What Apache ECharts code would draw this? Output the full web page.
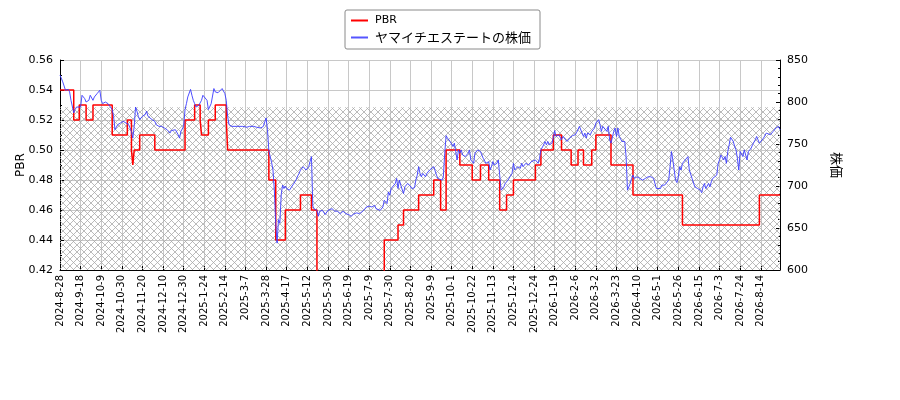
<!DOCTYPE html>
<html>
<head>
<meta charset="utf-8">
<script src="https://cdn.jsdelivr.net/npm/echarts@6/dist/echarts.min.js"></script>
<style>
html, body { margin: 0; padding: 0; background: #fff; }
#chart { width: 900px; height: 400px; }
</style>
</head>
<body>
<div id="chart"></div>
<script>
// one tick label every 15 trading days
var tickLabels = ['2024-8-28', '2024-9-18', '2024-10-9', '2024-10-30', '2024-11-20', '2024-12-10',
  '2024-12-30', '2025-1-24', '2025-2-14', '2025-3-7', '2025-3-28', '2025-4-17', '2025-5-12',
  '2025-5-30', '2025-6-19', '2025-7-9', '2025-7-30', '2025-8-20', '2025-9-9', '2025-10-1',
  '2025-10-22', '2025-11-13', '2025-12-4', '2025-12-24', '2026-1-19', '2026-2-6', '2026-3-2',
  '2026-3-23', '2026-4-10', '2026-5-1', '2026-5-26', '2026-6-15', '2026-7-3', '2026-7-24', '2026-8-14'];
var lastDay = 524;

// [trading day, close]
var price = [[0,832],[2,824],[4,814],[6,815],[7,812],[8,802],[10,787],[11,791],[12,794],[13,796],[15,794],[16,808],[17,806],[18,804],[19,800],[21,802],[22,808],[23,806],[24,802],[25,806],[27,810],[28,812],[29,814],[30,802],[31,798],[33,800],[34,799],[35,798],[36,796],[38,791],[39,783],[40,767],[41,769],[42,773],[44,775],[45,777],[46,777],[47,779],[48,775],[50,773],[51,769],[52,765],[53,757],[54,771],[55,794],[56,789],[57,783],[58,779],[59,781],[60,783],[62,785],[63,789],[64,783],[65,781],[67,779],[68,779],[69,777],[70,773],[72,771],[73,771],[74,771],[75,770],[76,769],[78,767],[79,765],[80,763],[81,766],[82,765],[84,767],[85,765],[86,761],[87,757],[88,765],[90,771],[91,791],[92,798],[93,806],[95,815],[96,808],[97,802],[98,798],[99,794],[101,796],[102,798],[103,802],[104,808],[105,806],[107,802],[108,791],[109,793],[110,798],[112,816],[113,812],[114,810],[115,811],[116,812],[118,816],[119,814],[120,810],[121,802],[122,783],[123,773],[124,771],[125,771],[126,773],[129,771],[131,771],[133,771],[136,770],[138,771],[141,771],[143,770],[146,769],[148,771],[149,773],[150,781],[151,767],[152,742],[153,735],[154,728],[155,719],[156,695],[157,655],[158,632],[159,660],[160,656],[161,690],[162,701],[163,697],[164,700],[165,697],[166,699],[167,695],[168,697],[169,700],[170,702],[171,705],[172,708],[173,712],[174,715],[175,719],[176,721],[177,723],[178,725],[179,719],[181,723],[182,729],[183,735],[184,676],[185,673],[187,671],[188,664],[189,670],[190,671],[191,671],[193,666],[194,668],[195,671],[196,672],[198,673],[199,671],[200,670],[201,668],[202,670],[204,667],[205,668],[206,670],[207,668],[208,667],[210,666],[211,667],[212,664],[213,664],[214,667],[216,668],[217,670],[218,667],[219,668],[221,671],[222,673],[223,675],[224,675],[225,676],[227,675],[228,675],[229,677],[230,673],[231,671],[233,671],[234,671],[235,675],[236,683],[238,679],[239,693],[240,689],[241,697],[242,699],[244,703],[245,709],[246,697],[247,707],[248,701],[250,691],[251,699],[252,701],[253,703],[255,700],[256,697],[257,699],[258,698],[259,707],[260,713],[261,723],[262,715],[263,711],[264,715],[266,711],[267,715],[268,713],[269,719],[270,717],[272,723],[273,721],[274,713],[275,709],[276,711],[278,707],[279,711],[280,739],[281,760],[282,757],[284,753],[285,755],[286,747],[287,751],[288,741],[289,731],[290,743],[291,739],[292,743],[293,737],[295,735],[296,737],[297,739],[298,743],[299,731],[301,727],[302,739],[303,741],[304,743],[306,741],[307,739],[308,733],[309,731],[310,727],[312,729],[313,719],[314,723],[315,729],[316,725],[318,727],[319,731],[320,713],[321,695],[323,699],[324,703],[325,703],[326,707],[327,709],[329,715],[330,727],[331,719],[332,717],[333,723],[335,721],[336,727],[337,723],[338,725],[339,727],[341,725],[343,729],[344,729],[346,731],[347,733],[348,727],[349,733],[350,743],[352,749],[353,753],[354,749],[355,753],[356,749],[358,751],[359,757],[360,766],[361,759],[363,761],[364,760],[365,755],[366,759],[367,757],[369,753],[370,755],[371,757],[372,759],[373,760],[375,761],[376,764],[377,767],[378,771],[379,769],[381,759],[382,763],[383,757],[384,763],[386,761],[387,765],[388,767],[389,769],[390,775],[392,779],[393,773],[394,765],[395,771],[396,769],[398,765],[399,771],[400,755],[401,751],[403,765],[404,769],[405,759],[406,769],[407,759],[409,753],[410,755],[411,753],[412,735],[413,695],[415,703],[416,709],[417,713],[418,709],[420,711],[421,713],[422,709],[423,711],[424,707],[426,709],[427,707],[428,711],[429,713],[430,711],[432,709],[433,703],[434,697],[435,695],[437,697],[438,701],[439,703],[440,701],[441,700],[443,707],[444,723],[445,741],[446,731],[447,719],[448,707],[449,704],[450,711],[451,723],[452,719],[453,727],[455,731],[456,733],[457,735],[458,719],[460,709],[461,707],[462,699],[463,701],[464,697],[466,695],[467,692],[468,699],[469,703],[470,697],[472,703],[473,699],[474,705],[475,709],[476,711],[478,713],[479,727],[480,731],[481,737],[483,731],[484,735],[485,727],[486,741],[487,749],[488,758],[490,753],[491,747],[492,743],[493,733],[494,719],[495,741],[497,735],[498,743],[500,731],[501,741],[502,743],[503,745],[504,749],[506,755],[507,759],[508,755],[509,751],[510,753],[512,757],[513,759],[514,763],[515,765],[517,761],[518,763],[519,765],[520,767],[521,769],[523,771],[524,767]];

// PBR: [trading day where the value starts, value]
var pbr = [[0,0.54],[10,0.52],[14,0.53],[19,0.52],[24,0.53],[38,0.51],[49,0.52],[52,0.50],[53,0.49],[54,0.50],[58,0.51],[69,0.50],[91,0.52],[98,0.53],[102,0.52],[103,0.51],[108,0.52],[113,0.53],[121,0.52],[122,0.50],[152,0.48],[157,0.44],[164,0.46],[175,0.47],[183,0.46],[187,0.41],[236,0.44],[246,0.45],[250,0.46],[261,0.47],[272,0.48],[277,0.46],[281,0.50],[291,0.49],[300,0.48],[306,0.49],[312,0.48],[320,0.46],[325,0.47],[330,0.48],[346,0.49],[350,0.50],[359,0.51],[365,0.50],[372,0.49],[377,0.50],[381,0.49],[387,0.50],[390,0.51],[401,0.49],[417,0.47],[453,0.45],[509,0.47],[524,0.47]];

var bandTop = 0.5285;

function hatchCanvas() {
  var c = document.createElement('canvas');
  c.width = 7; c.height = 7;
  var g = c.getContext('2d');
  g.strokeStyle = '#a9a9a9';
  g.lineWidth = 0.8;
  g.beginPath();
  g.moveTo(-1, -1); g.lineTo(8, 8);
  g.moveTo(8, -1); g.lineTo(-1, 8);
  g.stroke();
  return c;
}

var chart = echarts.init(document.getElementById('chart'));
var black = '#000';
var gridColor = '#c8c8c8';

chart.setOption({
  animation: false,
  textStyle: { fontFamily: '"DejaVu Sans", "Noto Sans CJK JP", sans-serif' },
  grid: { left: 60, right: 120, top: 60, bottom: 130, outerBoundsMode: 'none' },
  legend: {
    orient: 'vertical', left: 345, top: 10,
    padding: [5, 9, 5, 6], itemGap: 5,
    itemWidth: 17, itemHeight: 2, icon: 'rect',
    borderColor: '#8a8a8a', borderWidth: 1, borderRadius: 2, backgroundColor: '#fff',
    data: ['PBR', 'ヤマイチエステートの株価'],
    formatter: function (n) { return n === 'PBR' ? '{a|' + n + '}' : '{b|' + n + '}'; },
    textStyle: {
      color: black,
      rich: {
        a: { fontSize: 11, fontFamily: 'DejaVu Sans', padding: [0, 0, 0, 2] },
        b: { fontSize: 13, fontFamily: '"Noto Sans CJK JP"', padding: [0, 0, 0, 2] }
      }
    }
  },
  xAxis: {
    type: 'value', min: 0, max: lastDay, interval: 15,
    axisLine: { show: true, lineStyle: { color: black } },
    axisTick: { show: true, inside: true, length: 4, lineStyle: { color: black } },
    axisLabel: {
      rotate: 90, fontSize: 10, color: black, margin: 5,
      formatter: function (v) { return v % 15 === 0 ? (tickLabels[v / 15] || '') : ''; }
    },
    splitLine: { show: true, lineStyle: { color: gridColor } }
  },
  yAxis: [{
    type: 'value', min: 0.42, max: 0.56, interval: 0.02, position: 'left',
    name: 'PBR', nameLocation: 'middle', nameRotate: 90, nameGap: 33, nameMoveOverlap: false,
    nameTextStyle: { fontSize: 12, color: black },
    axisLine: { show: true, lineStyle: { color: black } },
    axisTick: { show: true, inside: true, length: 4, lineStyle: { color: black } },
    minorTick: { show: true, splitNumber: 2, length: 2, lineStyle: { color: black } },
    axisLabel: { fontSize: 11, color: black, margin: 7, showMinLabel: true, showMaxLabel: true,
      formatter: function (v) { return v.toFixed(2); } },
    splitLine: { show: true, lineStyle: { color: gridColor } }
  }, {
    type: 'value', min: 600, max: 850, interval: 50, position: 'right',
    name: '株価', nameLocation: 'middle', nameRotate: -90, nameGap: 50, nameMoveOverlap: false,
    nameTextStyle: { fontSize: 13, color: black, fontFamily: '"Noto Sans CJK JP"' },
    axisLine: { show: true, lineStyle: { color: black } },
    axisTick: { show: true, inside: true, length: 4, lineStyle: { color: black } },
    minorTick: { show: true, splitNumber: 5, length: 2, lineStyle: { color: black } },
    axisLabel: { fontSize: 11, color: black, margin: 7, showMinLabel: true, showMaxLabel: true },
    splitLine: { show: false }
  }],
  series: [{
    name: 'PBR', type: 'line', yAxisIndex: 0, step: 'end',
    data: pbr, symbol: 'none', clip: true,
    color: '#ff0000',
    lineStyle: { color: '#ff0000', width: 1.5 },
    markArea: {
      silent: true,
      itemStyle: { color: { image: hatchCanvas(), repeat: 'repeat' } },
      data: [[{ xAxis: 0, yAxis: bandTop }, { xAxis: lastDay, yAxis: 0.42 }]]
    }
  }, {
    name: 'ヤマイチエステートの株価', type: 'line', yAxisIndex: 1,
    data: price, symbol: 'none',
    color: '#5555ff',
    lineStyle: { color: '#3b3bff', width: 0.9 }
  }]
});
</script>
</body>
</html>
